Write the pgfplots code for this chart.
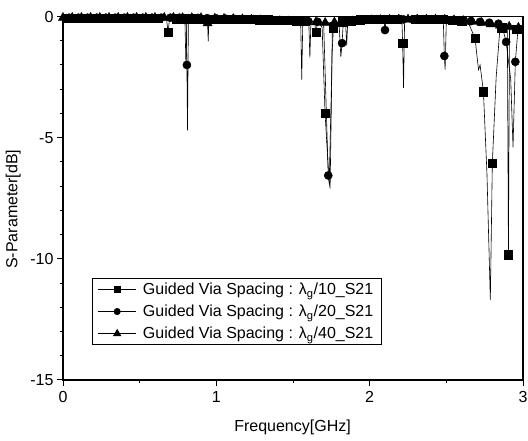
\documentclass[border=0pt]{standalone}
\usepackage{pgfplots}
\pgfplotsset{compat=1.18}
\usepackage{fontspec}
\setmainfont{Liberation Sans}
\begin{document}
\begin{tikzpicture}
\begin{axis}[
  scale only axis, width=460pt, height=363.5pt,
  xmin=0, xmax=3, ymin=-15, ymax=0,
  xtick={0,1,2,3}, ytick={-15,-10,-5,0},
  minor x tick num=1, minor y tick num=4,
  tick align=outside, xtick pos=left, ytick pos=left,
  major tick length=6pt, minor tick length=3.5pt,
  every tick/.style={black, line width=1pt},
  axis line style={line width=1.3pt},
  /pgf/number format/assume math mode=true,
  tick label style={font=\fontsize{16}{19}\selectfont},
  xticklabel style={yshift=-2pt},
  xlabel={Frequency[GHz]}, ylabel={S-Parameter[dB]},
  label style={font=\fontsize{16}{19}\selectfont},
  xlabel style={at={(axis description cs:0.499,-0.129)}, anchor=center},
  ylabel style={at={(axis description cs:-0.108,0.47)}, anchor=center},
  clip mode=individual,
  legend image code/.code={\draw[mark repeat=2,mark phase=2] plot coordinates {(0pt,0pt) (19pt,0pt) (38pt,0pt)};},
  legend cell align=left,
  legend style={at={(axis description cs:0.063,0.096)}, anchor=south west,
    draw=black, line width=0.8pt, font=\fontsize{16}{19}\selectfont,
    inner xsep=5.5pt, inner ysep=2pt, row sep=4pt,
    nodes={inner sep=2.5pt},
    /tikz/every odd column/.append style={column sep=4pt}},
]
\coordinate (bbSW) at (rel axis cs:-0.13696,-0.16781);
\coordinate (bbNE) at (rel axis cs:1.01087,1.04539);
% legend
\addlegendimage{black, line width=0.6pt, mark=square*, mark size=3.2pt}
\addlegendentry{Guided Via Spacing : λ\textsubscript{g}/10\_S21}
\addlegendimage{black, line width=0.6pt, mark=*, mark size=3.2pt}
\addlegendentry{Guided Via Spacing : λ\textsubscript{g}/20\_S21}
\addlegendimage{black, line width=0.6pt, mark=triangle*, mark size=4.2pt}
\addlegendentry{Guided Via Spacing : λ\textsubscript{g}/40\_S21}
% lambda/10 line
\addplot[black, line width=0.6pt, forget plot] coordinates {
(0,-0.08) (0.3,-0.08) (0.6,-0.08) (0.675,-0.09) (0.685,-0.64) (0.695,-0.09) (0.795,-0.09) (0.802,-2.1) (0.809,-0.09) (0.9,-0.09) (1.0,-0.1) (1.2,-0.12) (1.4,-0.15) (1.58,-0.19) (1.64,-0.21) (1.65,-0.64) (1.66,-0.22) (1.69,-0.45) (1.709,-4.0) (1.736,-6.9) (1.752,-2.5) (1.757,-0.3) (1.763,-0.46) (1.77,-0.25) (1.9,-0.16) (2.0,-0.12) (2.21,-0.12) (2.215,-1.1) (2.221,-2.95) (2.228,-0.13) (2.4,-0.1) (2.5,-0.13) (2.6,-0.2) (2.65,-0.35) (2.687,-0.9) (2.71,-2.2) (2.72,-2.0) (2.742,-3.1) (2.765,-6.5) (2.787,-11.7) (2.80,-6.05) (2.825,-2.5) (2.85,-0.45) (2.898,-0.5) (2.905,-9.83) (2.912,-0.55) (3.0,-0.55)};
% lambda/20 line
\addplot[black, line width=0.6pt, forget plot] coordinates {
(0,-0.05) (0.6,-0.05) (0.803,-0.06) (0.808,-2.0) (0.812,-4.7) (0.818,-0.06) (1.0,-0.08) (1.3,-0.12) (1.55,-0.18) (1.557,-2.6) (1.564,-0.18) (1.66,-0.22) (1.70,-0.3) (1.73,-6.56) (1.742,-7.1) (1.755,-1.5) (1.765,-0.3) (1.80,-0.22) (1.812,-1.67) (1.82,-1.1) (1.828,-0.22) (2.0,-0.12) (2.093,-0.12) (2.10,-0.56) (2.107,-0.12) (2.48,-0.12) (2.487,-1.63) (2.492,-2.2) (2.50,-0.15) (2.7,-0.21) (2.86,-0.3) (2.89,-1.05) (2.92,-2.6) (2.935,-5.4) (2.95,-1.87) (2.965,-0.7) (3.0,-0.6)};
% lambda/40 line
\addplot[black, line width=0.6pt, forget plot] coordinates {
(0,-0.05) (0.9,-0.06) (0.94,-0.07) (0.943,-0.28) (0.947,-1.03) (0.952,-0.08) (1.0,-0.08) (1.3,-0.15) (1.603,-0.22) (1.61,-1.7) (1.617,-0.22) (1.71,-0.26) (1.843,-0.22) (1.85,-1.2) (1.857,-0.21) (2.0,-0.15) (2.2,-0.12) (2.45,-0.12) (2.6,-0.18) (2.8,-0.32) (3.0,-0.48)};
% square markers
\addplot[only marks, black, mark=square*, mark size=4.2pt, forget plot] coordinates {
(0.02,-0.08) (0.08,-0.08) (0.14,-0.08) (0.20,-0.08) (0.26,-0.08) (0.32,-0.08) (0.38,-0.08) (0.44,-0.08) (0.50,-0.08) (0.56,-0.08) (0.62,-0.08) (0.685,-0.64) (0.74,-0.09) (0.80,-0.09) (0.86,-0.09) (0.92,-0.1) (0.98,-0.1) (1.04,-0.1) (1.10,-0.11) (1.16,-0.12) (1.22,-0.12) (1.28,-0.13) (1.34,-0.14) (1.40,-0.15) (1.46,-0.16) (1.52,-0.18) (1.58,-0.19) (1.65,-0.64) (1.709,-4.0) (1.763,-0.46) (1.82,-0.22) (1.88,-0.18) (1.94,-0.14) (2.00,-0.12) (2.06,-0.12) (2.12,-0.12) (2.18,-0.12) (2.215,-1.1) (2.30,-0.12) (2.36,-0.11) (2.42,-0.1) (2.48,-0.12) (2.54,-0.15) (2.60,-0.2) (2.687,-0.9) (2.742,-3.1) (2.80,-6.05) (2.86,-0.46) (2.905,-9.83) (2.96,-0.53)};
% circle markers
\addplot[only marks, black, mark=*, mark size=4.1pt, forget plot] coordinates {
(0.04,-0.05) (0.10,-0.05) (0.16,-0.05) (0.22,-0.05) (0.28,-0.05) (0.34,-0.05) (0.40,-0.05) (0.46,-0.05) (0.52,-0.05) (0.58,-0.05) (0.64,-0.05) (0.70,-0.05) (0.76,-0.05) (0.808,-2.0) (0.88,-0.06) (0.94,-0.07) (1.00,-0.08) (1.06,-0.09) (1.12,-0.1) (1.18,-0.11) (1.24,-0.11) (1.30,-0.12) (1.36,-0.13) (1.42,-0.15) (1.48,-0.16) (1.54,-0.18) (1.60,-0.2) (1.66,-0.22) (1.73,-6.56) (1.82,-1.1) (1.88,-0.18) (1.94,-0.14) (2.00,-0.12) (2.06,-0.12) (2.10,-0.56) (2.16,-0.12) (2.22,-0.12) (2.28,-0.12) (2.34,-0.12) (2.40,-0.12) (2.487,-1.63) (2.54,-0.15) (2.60,-0.17) (2.66,-0.19) (2.72,-0.22) (2.78,-0.26) (2.84,-0.3) (2.89,-1.05) (2.95,-1.87)};
% triangle markers
\addplot[only marks, black, mark=triangle*, mark size=5.3pt, forget plot] coordinates {
(0.00,-0.05) (0.06,-0.05) (0.12,-0.05) (0.18,-0.05) (0.24,-0.05) (0.30,-0.05) (0.36,-0.05) (0.42,-0.05) (0.48,-0.05) (0.54,-0.05) (0.60,-0.05) (0.66,-0.05) (0.72,-0.05) (0.78,-0.06) (0.84,-0.06) (0.90,-0.06) (0.943,-0.28) (0.99,-0.08) (1.05,-0.09) (1.11,-0.1) (1.17,-0.11) (1.23,-0.13) (1.29,-0.15) (1.35,-0.17) (1.41,-0.19) (1.47,-0.2) (1.53,-0.21) (1.59,-0.22) (1.65,-0.24) (1.71,-0.26) (1.77,-0.24) (1.83,-0.22) (1.89,-0.2) (1.95,-0.17) (2.01,-0.15) (2.07,-0.14) (2.13,-0.13) (2.19,-0.12) (2.25,-0.12) (2.31,-0.12) (2.37,-0.12) (2.43,-0.12) (2.49,-0.13) (2.55,-0.15) (2.61,-0.18) (2.67,-0.22) (2.73,-0.26) (2.79,-0.32) (2.85,-0.37) (2.91,-0.42) (2.97,-0.46)};
\end{axis}
\pgfresetboundingbox
\path[use as bounding box] (bbSW) rectangle (bbNE);
\end{tikzpicture}
\end{document}
